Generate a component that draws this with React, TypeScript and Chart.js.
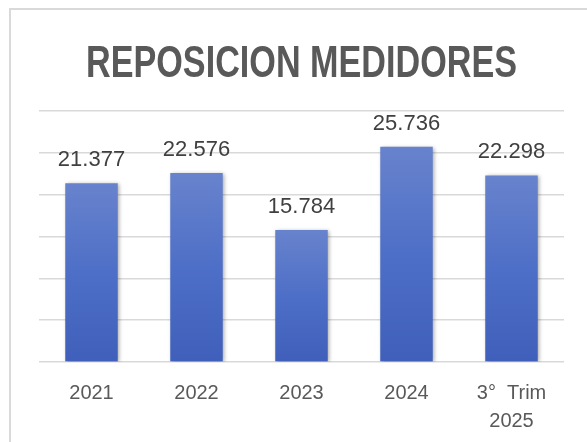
import React, { useEffect, useRef } from "react";
import { Chart, registerables } from "chart.js";

Chart.register(...registerables);

const TITLE = "REPOSICION MEDIDORES";
const CATEGORIES: (string | string[])[] = ["2021", "2022", "2023", "2024", ["3°  Trim", "2025"]];
const VALUES = [21377, 22576, 15784, 25736, 22298];
const VALUE_LABELS = ["21.377", "22.576", "15.784", "25.736", "22.298"];
const Y_MAX = 30000;
const Y_STEP = 5000;

export default function App() {
  const ref = useRef<HTMLCanvasElement | null>(null);

  useEffect(() => {
    if (!ref.current) return;

    const titlePlugin = {
      id: "condensedTitle",
      afterDraw(chart: any) {
        const c = chart.ctx;
        c.save();
        c.font = "bold 44px 'Liberation Sans', Arial, sans-serif";
        c.fillStyle = "#595959";
        c.textBaseline = "alphabetic";
        c.textAlign = "center";
        const w = c.measureText(TITLE).width;
        const sx = 431 / w;
        c.translate(301.5, 77);
        c.scale(sx, 1);
        c.fillText(TITLE, 0, 0);
        c.restore();
      },
    };

    const barPlugin = {
      id: "barShadowLabels",
      beforeDatasetsDraw(chart: any) {
        const c = chart.ctx;
        c.save();
        c.shadowColor = "rgba(0,0,0,0.35)";
        c.shadowBlur = 4;
        c.shadowOffsetX = 1.5;
        c.shadowOffsetY = 1;
      },
      afterDatasetsDraw(chart: any) {
        const c = chart.ctx;
        c.restore();
        const meta = chart.getDatasetMeta(0);
        c.save();
        c.font = "22px 'Liberation Sans', Arial, sans-serif";
        c.fillStyle = "#404040";
        c.textAlign = "center";
        c.textBaseline = "alphabetic";
        meta.data.forEach((bar: any, i: number) => {
          c.fillText(VALUE_LABELS[i], bar.x, bar.y - 17);
        });
        c.restore();
      },
    };

    const chart = new Chart(ref.current, {
      type: "bar",
      data: {
        labels: CATEGORIES,
        datasets: [
          {
            data: VALUES,
            backgroundColor: (ctx: any) => {
              const chart = ctx.chart;
              const y = chart.scales?.y;
              if (!y || typeof ctx.raw !== "number") return "#4a6cc4";
              const top = y.getPixelForValue(ctx.raw);
              const bottom = y.getPixelForValue(0);
              if (!Number.isFinite(top) || !Number.isFinite(bottom) || top === bottom) return "#4a6cc4";
              const g = chart.ctx.createLinearGradient(0, top, 0, bottom);
              g.addColorStop(0, "#6883cd");
              g.addColorStop(0.5, "#4e6fc7");
              g.addColorStop(1, "#3f5fba");
              return g;
            },
            borderWidth: 0,
            categoryPercentage: 1,
            barPercentage: 0.5,
          },
        ],
      },
      options: {
        animation: false,
        responsive: false,
        maintainAspectRatio: false,
        layout: { padding: { left: 39, right: 23, top: 111, bottom: 0 } },
        plugins: {
          legend: { display: false },
          title: { display: false },
          tooltip: { enabled: false },
        },
        scales: {
          x: {
            grid: { display: false },
            border: { display: false },
            ticks: {
              color: "#595959",
              font: { family: "'Liberation Sans', Arial, sans-serif", size: 20, lineHeight: 1.4 },
              padding: 9,
              maxRotation: 0,
              autoSkip: false,
            },
            afterFit: (s: any) => {
              s.height = 80;
            },
          },
          y: {
            min: 0,
            max: Y_MAX,
            ticks: { display: false, stepSize: Y_STEP },
            grid: { color: "#d9d9d9", lineWidth: 1.5, drawTicks: false },
            border: { display: false },
            afterFit: (s: any) => {
              s.width = 0;
            },
          },
        },
      },
      plugins: [titlePlugin, barPlugin],
    });

    return () => chart.destroy();
  }, []);

  return (
    <div style={{ position: "absolute", left: 0, top: 0, width: 587, height: 442, overflow: "hidden", background: "#ffffff" }}>
      <div
        style={{
          position: "absolute",
          left: 9,
          top: 8,
          width: 700,
          height: 600,
          borderLeft: "2px solid #d9d9d9",
          borderTop: "2px solid #d9d9d9",
        }}
      />
      <canvas ref={ref} width={587} height={442} style={{ position: "absolute", left: 0, top: 0, width: 587, height: 442 }} />
    </div>
  );
}
